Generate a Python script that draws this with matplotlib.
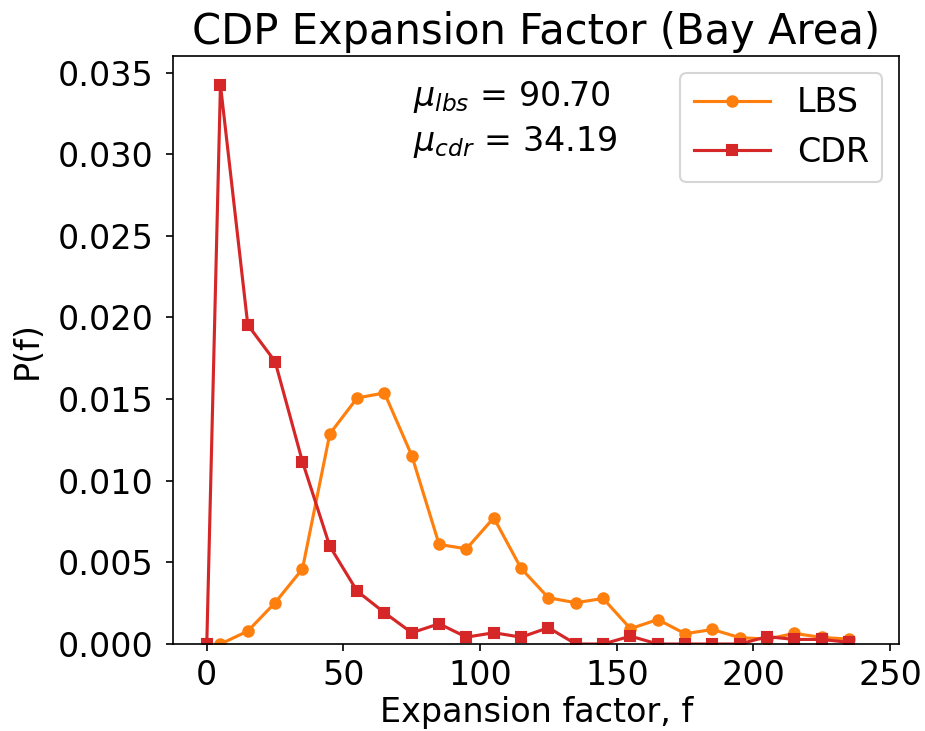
import matplotlib
matplotlib.use("Agg")
import matplotlib.pyplot as plt
from matplotlib.ticker import FormatStrFormatter

# Expansion factor bins (bin centres)
f_lbs = [5, 15, 25, 35, 45, 55, 65, 75, 85, 95, 105, 115, 125, 135, 145,
         155, 165, 175, 185, 195, 205, 215, 225, 235]
p_lbs = [0.0000, 0.00079, 0.00253, 0.0046, 0.01287, 0.01507, 0.01538, 0.01154,
         0.0061, 0.00583, 0.00773, 0.00463, 0.00283, 0.00253, 0.00279,
         0.00094, 0.0015, 0.00063, 0.00089, 0.00039, 0.0003, 0.00065,
         0.0004, 0.0003]

f_cdr = [0, 5, 15, 25, 35, 45, 55, 65, 75, 85, 95, 105, 115, 125, 135, 145,
         155, 165, 175, 185, 195, 205, 215, 225, 235]
p_cdr = [0.0, 0.03425, 0.01955, 0.0173, 0.01117, 0.00599, 0.00324, 0.00192,
         0.00069, 0.00124, 0.00042, 0.00069, 0.00042, 0.001, 0.0, 0.0,
         0.00048, 0.0, 0.0, 0.0, 0.0, 0.00045, 0.00028, 0.00028, 0.0001]

mu_lbs = 90.70
mu_cdr = 34.19

DPI = 150
plt.rcParams["font.size"] = 16

fig = plt.figure(figsize=(926 / DPI, 731 / DPI), dpi=DPI)
ax = fig.add_axes([0.187, 0.119, 0.784, 0.804])

ax.plot(f_lbs, p_lbs, color="tab:orange", marker="o", ms=5, label="LBS")
ax.plot(f_cdr, p_cdr, color="tab:red", marker="s", ms=5, label="CDR")

ax.set_xlim(-12.3, 253.3)
ax.set_ylim(0, 0.0360)
ax.set_xticks([0, 50, 100, 150, 200, 250])
ax.set_yticks([0.0, 0.005, 0.01, 0.015, 0.02, 0.025, 0.03, 0.035])
ax.yaxis.set_major_formatter(FormatStrFormatter("%.3f"))
ax.tick_params(axis="y", pad=5.8)

ax.set_xlabel("Expansion factor, f", labelpad=2)
ax.set_ylabel("P(f)", labelpad=7)
ax.set_title("CDP Expansion Factor (Bay Area)", fontsize=20)

ax.text(0.331, 0.93, r"$\mu_{lbs}$ = %.2f" % mu_lbs, transform=ax.transAxes,
        va="center")
ax.text(0.331, 0.854, r"$\mu_{cdr}$ = %.2f" % mu_cdr, transform=ax.transAxes,
        va="center")

ax.legend(loc="upper right", handlelength=2.3)

fig.savefig("out.png", dpi=DPI)
